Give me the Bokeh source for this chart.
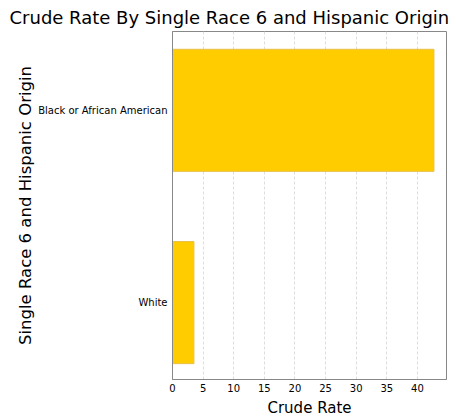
from bokeh.plotting import figure
from bokeh.models import FixedTicker, Range1d
from bokeh.embed import file_html
from bokeh.resources import INLINE

# data
categories = ["White", "Black or African American"]
crude_rate = [3.5, 42.7]
x_ticks = [0, 5, 10, 15, 20, 25, 30, 35, 40]

FONT = "DejaVu Sans"

y_pos = list(range(len(categories)))

p = figure(
    width=456,
    height=419,
    output_backend="svg",
    toolbar_location=None,
    x_range=Range1d(0, 44.75),
    y_range=Range1d(-0.4, len(categories) - 1 + 0.41),
    title="Crude Rate By Single Race 6 and Hispanic Origin",
    x_axis_label="Crude Rate",
    y_axis_label="Single Race 6 and Hispanic Origin",
    min_border_left=172,
    min_border_right=10,
    min_border_top=31,
    min_border_bottom=40,
)

p.hbar(
    y=y_pos,
    right=crude_rate,
    left=0,
    height=0.635,
    fill_color="#FFCC00",
    line_color="#E8C04A",
    line_width=1,
)

# --- Title ---
p.title.text_font = FONT
p.title.text_font_size = "18px"
p.title.text_font_style = "normal"
p.title.text_color = "black"
p.title.align = "left"
p.title.offset = -163
p.title.standoff = 7

# --- Axes ---
p.xaxis.ticker = FixedTicker(ticks=x_ticks)
p.yaxis.ticker = FixedTicker(ticks=y_pos)
p.yaxis.major_label_overrides = {i: c for i, c in zip(y_pos, categories)}

for ax in (p.xaxis, p.yaxis):
    ax.axis_label_text_font = FONT
    ax.axis_label_text_font_size = "15px"
    ax.axis_label_text_font_style = "normal"
    ax.axis_label_text_color = "black"
    ax.major_label_text_font = FONT
    ax.major_label_text_font_size = "10px"
    ax.major_label_text_color = "black"
    ax.axis_line_color = "#888888"
    ax.major_tick_line_color = "#888888"
    ax.major_tick_out = 0
    ax.major_tick_in = 0
    ax.minor_tick_line_color = None

p.xaxis.major_label_standoff = 4
p.xaxis.axis_label_standoff = 4
p.yaxis.major_label_standoff = 5
p.yaxis.axis_label_standoff = 0
p.yaxis.axis_label_text_font_size = "16.5px"
p.yaxis.major_tick_line_color = None

# --- Grid and frame ---
p.xgrid.grid_line_color = "#DDDDDD"
p.xgrid.grid_line_dash = "3 2"
p.ygrid.grid_line_color = None
p.outline_line_color = "#888888"
p.outline_line_width = 1
p.background_fill_color = "white"
p.border_fill_color = "white"

open("out.html", "w").write(file_html(p, INLINE))
